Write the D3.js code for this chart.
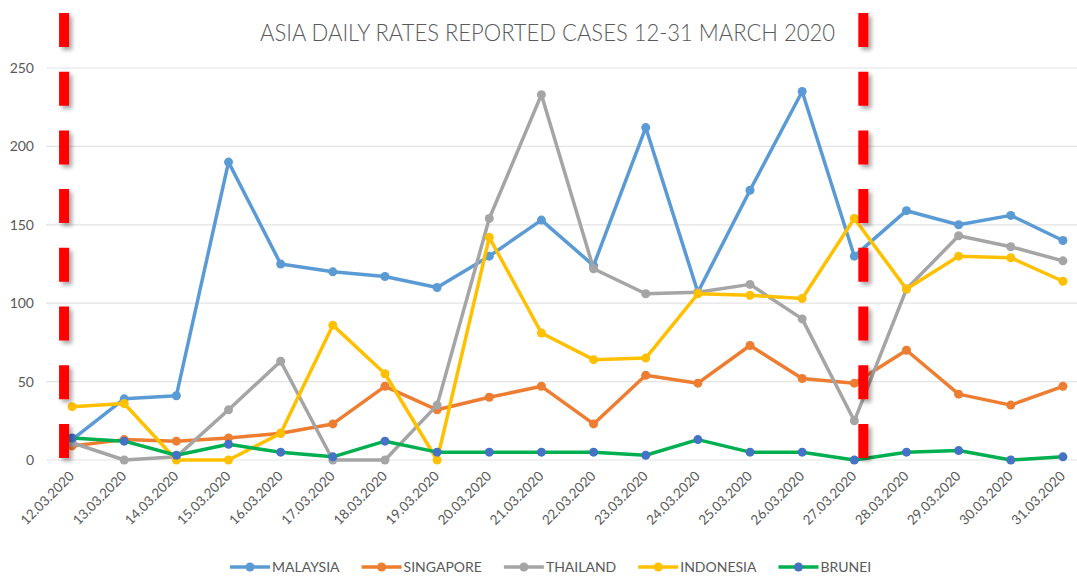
<!DOCTYPE html>
<html>
<head>
  <meta charset="utf-8">
  <title>Asia daily rates reported cases</title>
  <script src="https://d3js.org/d3.v7.min.js"></script>
  <style>
    body { margin: 0; background: #fff; }
    text { font-family: Lato, "Open Sans", sans-serif; fill: #595959; }
  </style>
</head>
<body>
<script>
// data
var dates = ["12.03.2020","13.03.2020","14.03.2020","15.03.2020","16.03.2020","17.03.2020","18.03.2020",
  "19.03.2020","20.03.2020","21.03.2020","22.03.2020","23.03.2020","24.03.2020","25.03.2020","26.03.2020",
  "27.03.2020","28.03.2020","29.03.2020","30.03.2020","31.03.2020"];
var malaysia  = [13, 39, 41, 190, 125, 120, 117, 110, 130, 153, 124, 212, 107, 172, 235, 130, 159, 150, 156, 140];
var singapore = [9, 13, 12, 14, 17, 23, 47, 32, 40, 47, 23, 54, 49, 73, 52, 49, 70, 42, 35, 47];
var thailand  = [11, 0, 2, 32, 63, 0, 0, 35, 154, 233, 122, 106, 107, 112, 90, 25, 109, 143, 136, 127];
var indonesia = [34, 36, 0, 0, 17, 86, 55, 0, 142, 81, 64, 65, 106, 105, 103, 154, 109, 130, 129, 114];
var brunei    = [14, 12, 3, 10, 5, 2, 12, 5, 5, 5, 5, 3, 13, 5, 5, 0, 5, 6, 0, 2];
var yTicks = [0, 50, 100, 150, 200, 250];
var markDates = ["12.03.2020", "27.03.2020"];

var series = [
  {name: "MALAYSIA",  values: malaysia,  line: "#5B9BD5", dot: "#5B9BD5"},
  {name: "SINGAPORE", values: singapore, line: "#ED7D31", dot: "#ED7D31"},
  {name: "THAILAND",  values: thailand,  line: "#A5A5A5", dot: "#A5A5A5"},
  {name: "INDONESIA", values: indonesia, line: "#FFC000", dot: "#FFC000"},
  {name: "BRUNEI",    values: brunei,    line: "#00B050", dot: "#4472C4"}
];

var w = 1077, h = 577;
var svg = d3.select("body").append("svg").attr("width", w).attr("height", h);

// shadow for the red markers (user space, a vertical line has no width)
var f = svg.append("defs").append("filter").attr("id", "shadow")
  .attr("filterUnits", "userSpaceOnUse")
  .attr("x", 0).attr("y", 0).attr("width", w).attr("height", h);
f.append("feDropShadow").attr("dx", 3).attr("dy", 3).attr("stdDeviation", 2)
  .attr("flood-color", "#000").attr("flood-opacity", 0.35);

var x = d3.scalePoint().domain(dates).range([46, 1089]).padding(0.5);
var y = d3.scaleLinear().domain([0, 250]).range([460, 68]);

// gridlines
svg.append("g").selectAll("line").data(yTicks).enter().append("line")
  .attr("x1", 46).attr("x2", w)
  .attr("y1", function(d) { return y(d); }).attr("y2", function(d) { return y(d); })
  .attr("stroke", "#E3E3E3").attr("stroke-width", 1.2);

// y axis labels
var yAxis = svg.append("g").attr("transform", "translate(34,0)")
  .call(d3.axisLeft(y).tickValues(yTicks).tickSize(0).tickPadding(0));
yAxis.select(".domain").remove();
yAxis.selectAll("text").style("font-family", "Lato, sans-serif").style("font-size", "14px")
  .attr("fill", "#595959");

// x tick labels, rotated
svg.append("g").selectAll("text").data(dates).enter().append("text")
  .attr("transform", function(d) { return "translate(" + (x(d) + 3) + ",477) rotate(-45)"; })
  .attr("text-anchor", "end")
  .attr("font-size", 13.5)
  .text(function(d) { return d; });

// title
svg.append("text").attr("x", 260).attr("y", 41)
  .attr("font-size", 24).attr("font-weight", 300)
  .attr("textLength", 575).attr("lengthAdjust", "spacingAndGlyphs")
  .text("ASIA DAILY RATES REPORTED CASES 12-31 MARCH 2020");

var line = d3.line()
  .x(function(d, i) { return x(dates[i]); })
  .y(function(d) { return y(d); });

series.forEach(function(s) {
  var g = svg.append("g");
  g.append("path").attr("d", line(s.values))
    .attr("fill", "none").attr("stroke", s.line).attr("stroke-width", 3.5)
    .attr("stroke-linejoin", "round");
  g.selectAll("circle").data(s.values).enter().append("circle")
    .attr("cx", function(d, i) { return x(dates[i]); })
    .attr("cy", function(d) { return y(d); })
    .attr("r", 4.5).attr("fill", s.dot);
});

// red dashed markers
svg.append("g").attr("filter", "url(#shadow)")
  .selectAll("line").data(markDates).enter().append("line")
  .attr("x1", function(d, i) { return x(d) + (i == 0 ? -8 : 9); })
  .attr("x2", function(d, i) { return x(d) + (i == 0 ? -8 : 9); })
  .attr("y1", 13).attr("y2", 459)
  .attr("stroke", "#FF0000").attr("stroke-width", 10)
  .attr("stroke-dasharray", "34 24.7");

// legend
var lx = 230, ly = 567;
var legend = svg.append("g");
series.forEach(function(s) {
  var g = legend.append("g").attr("transform", "translate(" + lx + "," + ly + ")");
  g.append("line").attr("x1", 0).attr("x2", 40).attr("y1", 0).attr("y2", 0)
    .attr("stroke", s.line).attr("stroke-width", 3.5);
  g.append("circle").attr("cx", 20).attr("cy", 0).attr("r", 4.5).attr("fill", s.dot);
  var t = g.append("text").attr("x", 42).attr("y", 5).attr("font-size", 14).text(s.name);
  lx += 42 + t.node().getComputedTextLength() + 22;
});
</script>
</body>
</html>
